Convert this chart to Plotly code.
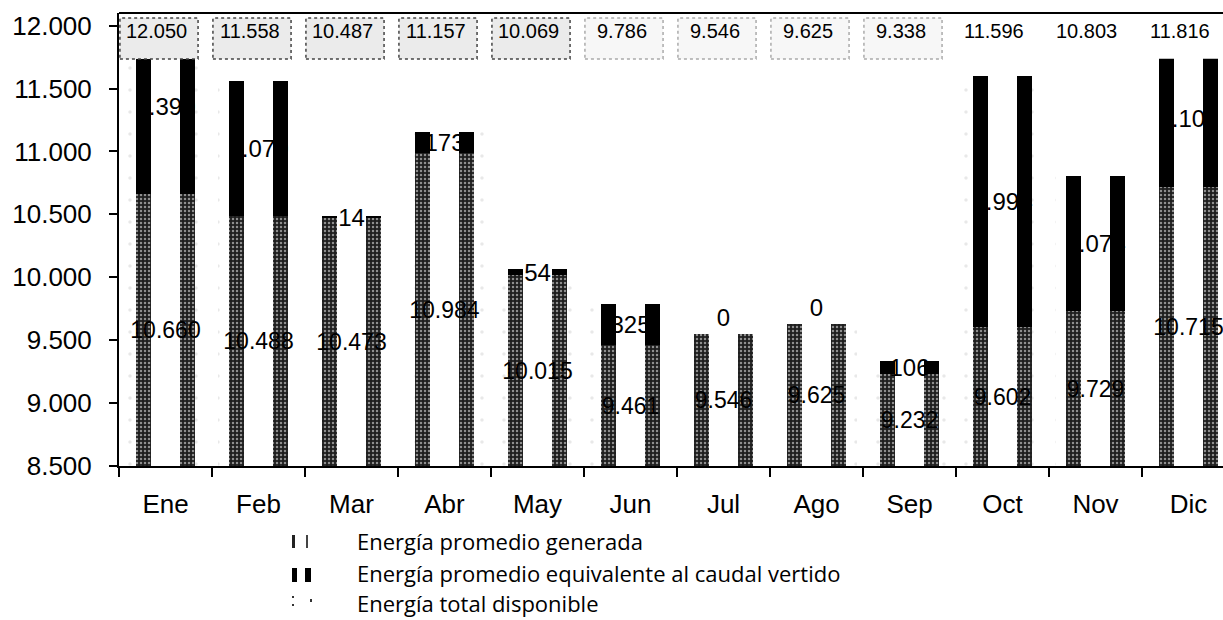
import plotly.graph_objects as go

meses = ["Ene", "Feb", "Mar", "Abr", "May", "Jun", "Jul", "Ago", "Sep", "Oct", "Nov", "Dic"]
generada = [10660, 10488, 10473, 10984, 10015, 9461, 9546, 9625, 9232, 9602, 9729, 10715]
vertida = [1390, 1070, 14, 173, 54, 325, 0, 0, 106, 1994, 1074, 1101]
total = [12050, 11558, 10487, 11157, 10069, 9786, 9546, 9625, 9338, 11596, 10803, 11816]
y_ticks = [8500, 9000, 9500, 10000, 10500, 11000, 11500, 12000]

Y_MIN = 8500
Y_MAX = 12100
BAND_BOTTOM = 11737  # visible top of the bars, under the label row

W, H = 1223, 620
PL, PR, PT, PB = 119, 1223, 13, 466


def fmt(v):
    return f"{v:,}".replace(",", ".")


def pxx(x):
    return (x - PL) / (PR - PL)


def pxy(y):
    return (PB - y) / (PB - PT)


OUTER_W = 0.635
INNER_W = 0.32
FONT_NUM = "Liberation Sans, Arial, sans-serif"

fig = go.Figure()

# total available: faint dotted background bar
fig.add_trace(go.Bar(
    x=meses, y=[t - Y_MIN for t in total], base=Y_MIN, width=0.87,
    name="Energía total disponible",
    marker=dict(color="white", line=dict(width=0),
                pattern=dict(shape=".", fgcolor="#d2d2d2", size=22, solidity=0.02)),
    showlegend=False, hoverinfo="skip",
))

# generated energy: stippled dark edges
fig.add_trace(go.Bar(
    x=meses, y=[g - Y_MIN for g in generada], base=Y_MIN, width=OUTER_W,
    name="Energía promedio generada",
    marker=dict(color="#1e1e1e", line=dict(width=0),
                pattern=dict(shape=".", fgcolor="white", size=4, solidity=0.3)),
    showlegend=False,
))
fig.add_trace(go.Bar(
    x=meses, y=[g - Y_MIN for g in generada], base=Y_MIN, width=INNER_W,
    marker=dict(color="white", line=dict(width=0)),
    text=[fmt(g) for g in generada], textposition="inside", insidetextanchor="middle",
    textangle=0, constraintext="none",
    textfont=dict(family=FONT_NUM, size=23, color="black"),
    showlegend=False, hoverinfo="skip",
))

# spilled-flow equivalent energy: solid black edges
fig.add_trace(go.Bar(
    x=meses, y=vertida, base=generada, width=OUTER_W,
    name="Energía promedio equivalente al caudal vertido",
    marker=dict(color="black", line=dict(width=0)),
    showlegend=False,
))
fig.add_trace(go.Bar(
    x=meses, y=vertida, base=generada, width=INNER_W,
    marker=dict(color="white", line=dict(width=0)),
    text=[fmt(v) for v in vertida],
    textposition=["outside" if v == 0 else "inside" for v in vertida],
    insidetextanchor="middle", textangle=0, constraintext="none", cliponaxis=False,
    textfont=dict(family=FONT_NUM, size=24, color="black"),
    showlegend=False, hoverinfo="skip",
))

shapes = []
# white band for the label row on top (bars hidden under it)
shapes.append(dict(type="rect", xref="paper", yref="y", x0=0.003, x1=1, y0=BAND_BOTTOM, y1=Y_MAX,
                   fillcolor="white", line=dict(width=0), layer="above"))
# frame top line
shapes.append(dict(type="line", xref="paper", yref="paper", x0=0, x1=1, y0=1, y1=1,
                   line=dict(color="black", width=2), layer="above"))
# dotted boxes behind the first nine totals
for i in range(9):
    shade = "#ebebeb" if i < 5 else "#f7f7f7"
    edge = "#444" if i < 5 else "#aaa"
    shapes.append(dict(type="rect", xref="x", yref="paper",
                       x0=i - 0.5 + 0.01, x1=i + 0.35, y0=pxy(59), y1=pxy(18),
                       fillcolor=shade, line=dict(color=edge, width=1.5, dash="dot"), layer="above"))

# legend symbols (two little strokes each)
sym = [
    [(292, 295, 535, 548, "#222"), (306, 308, 535, 548, "#444")],
    [(292, 297, 568, 582, "black"), (305, 311, 568, 582, "black")],
    [(292, 294, 596, 598, "#333"), (292, 294, 604, 606, "#333"), (310, 312, 599, 602, "#333")],
]
for row in sym:
    for (x0, x1, y0, y1, c) in row:
        shapes.append(dict(type="rect", xref="paper", yref="paper",
                           x0=pxx(x0), x1=pxx(x1), y0=pxy(y1), y1=pxy(y0),
                           fillcolor=c, line=dict(width=0), layer="above"))

annotations = []
for i, t in enumerate(total):
    annotations.append(dict(x=meses[i], y=pxy(31), xref="x", yref="paper", text=fmt(t),
                            showarrow=False, xshift=-9, yanchor="middle",
                            font=dict(family=FONT_NUM, size=20, color="black")))

legend_names = ["Energía promedio generada",
                "Energía promedio equivalente al caudal vertido",
                "Energía total disponible"]
for name, yc in zip(legend_names, [541, 573, 603]):
    annotations.append(dict(x=pxx(355), y=pxy(yc), xref="paper", yref="paper", text=name,
                            showarrow=False, xanchor="left", yanchor="middle",
                            font=dict(family="Open Sans, Lato, sans-serif", size=22, color="black")))

fig.update_layout(
    width=W, height=H,
    margin=dict(l=PL, r=W - PR, t=PT, b=H - PB, pad=0),
    paper_bgcolor="white", plot_bgcolor="white",
    barmode="overlay", bargap=0,
    separators=",.",
    showlegend=False,
    shapes=shapes, annotations=annotations,
    xaxis=dict(type="category", range=[-0.5, -0.5 + (PR - PL) / 93.0],
               showline=True, linecolor="black", linewidth=2,
               ticks="outside", tickson="boundaries", ticklen=9, tickwidth=1.5, tickcolor="black",
               tickfont=dict(family=FONT_NUM, size=26, color="black"),
               ticklabelstandoff=14, showgrid=False, zeroline=False, fixedrange=True),
    yaxis=dict(range=[Y_MIN, Y_MAX], tickvals=y_ticks, tickformat=",d",
               showline=True, linecolor="black", linewidth=2,
               ticks="outside", ticklen=8, tickwidth=1.5, tickcolor="black",
               tickfont=dict(family=FONT_NUM, size=26, color="black"),
               ticklabelstandoff=12, showgrid=False, zeroline=False, fixedrange=True),
)

fig.write_html("out.html", config={"displayModeBar": False},
               post_script="document.body.style.margin='0px';document.body.style.overflow='hidden';")
